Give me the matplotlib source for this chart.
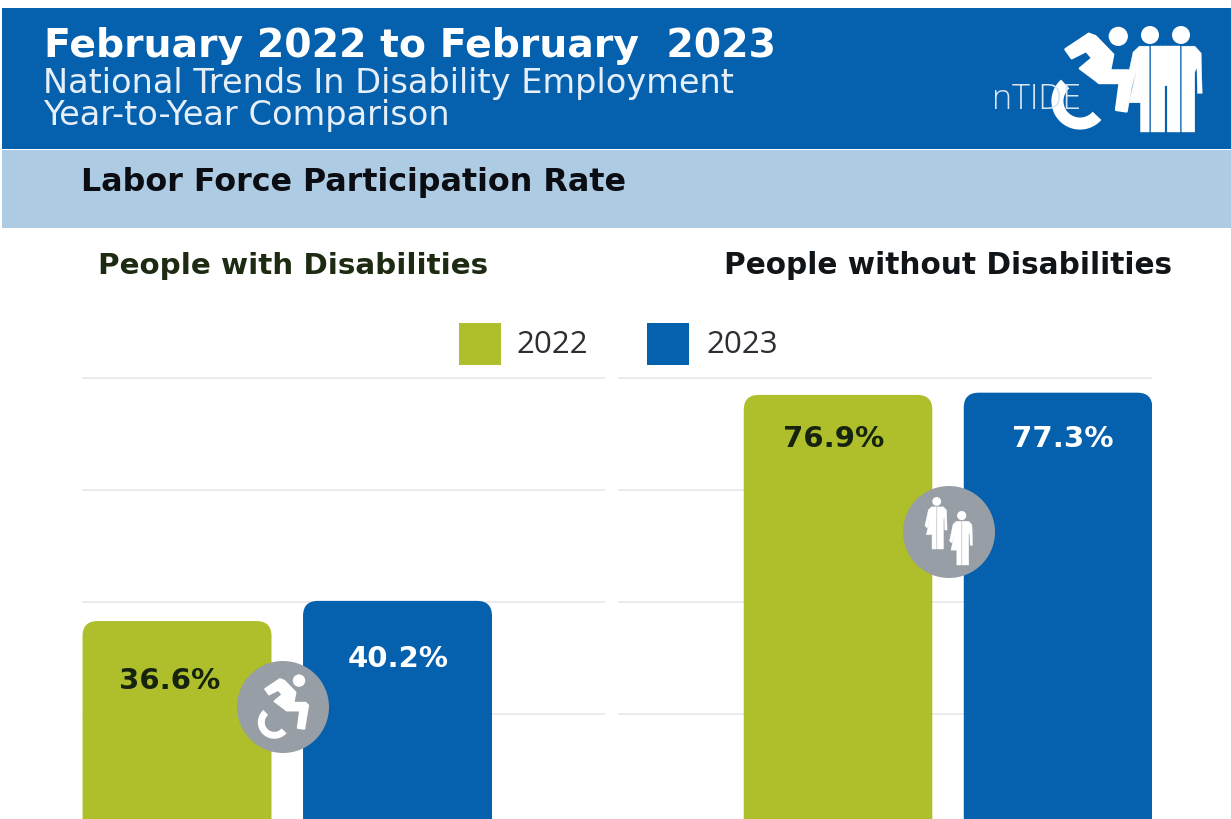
import numpy as np
import matplotlib
matplotlib.use("Agg")
import matplotlib.pyplot as plt
from matplotlib.patches import Rectangle, Circle, Polygon, FancyBboxPatch

W, H = 1231, 820
BLUE = "#0561ae"
GREEN = "#aebf2b"
PALE = "#aecbe4"
GREY = "#979ea6"
GRID = "#e3e5e8"

years = ["2022", "2023"]
with_disabilities = [36.6, 40.2]
without_disabilities = [76.9, 77.3]
grid_values = [20, 40, 60, 80]

title = "February 2022 to February  2023"
subtitle = ["National Trends In Disability Employment", "Year-to-Year Comparison"]
band_title = "Labor Force Participation Rate"
panel_titles = ["People with Disabilities", "People without Disabilities"]


def px_axes(fig, left, right, top, bottom):
    return fig.add_axes([left / W, 1 - bottom / H, (right - left) / W, (bottom - top) / H])


def rounded_bars(ax, values, colors, radius=0.068, width=0.857, floor=-8):
    # rounding is in x units, mutation_aspect keeps the corners circular on screen
    # boxes start below the axis so only the top corners show
    x0, x1 = ax.get_xlim()
    y0, y1 = ax.get_ylim()
    bb = ax.get_window_extent()
    aspect = (bb.width / (x1 - x0)) / (bb.height / (y1 - y0))
    for i, v in enumerate(values):
        ax.add_patch(FancyBboxPatch((i - width / 2, floor), width, v - floor,
                                    boxstyle=f"round,pad=0,rounding_size={radius}",
                                    mutation_aspect=aspect, fc=colors[i], ec="none", zorder=3))


def panel(ax, xlim, values, offsets):
    ax.set_xlim(*xlim)
    ax.set_ylim(1.33, 82)
    rounded_bars(ax, values, [GREEN, BLUE])
    ax.set_yticks(grid_values)
    ax.set_xticks([])
    ax.tick_params(left=False, labelleft=False)
    ax.grid(axis="y", color=GRID, lw=1.1)
    ax.set_axisbelow(True)
    for s in ax.spines.values():
        s.set_visible(False)
    label_colors = ["#15230f", "white"]
    for i, v in enumerate(values):
        ax.annotate(f"{v}%", (i, v), xytext=offsets[i], textcoords="offset pixels",
                    ha="center", va="center", fontsize=21, fontweight="bold",
                    color=label_colors[i], zorder=4)


def accessible(ax, cx, cy, s, color, wheel=1.0):
    # wheelchair symbol, (cx, cy) is the wheel centre
    t = np.radians(np.linspace(41, 229, 40))
    r = 13 * s * wheel
    ax.plot(cx + r * np.cos(t), cy + r * np.sin(t), color=color,
            lw=5 * s * wheel, solid_capstyle="butt")
    ax.add_patch(Circle((cx + 24.7 * s, cy - 41.7 * s), 6.2 * s, fc=color, ec="none"))
    body = np.array([(-28, -100), (17, -130), (30, -125), (64, -90), (58, -59), (94, -59),
                     (102, -51), (90, 20), (70, 17), (77, -35), (37, -35), (27, -43),
                     (0, -63), (24, -83), (12, -97), (-16, -83)]) / 3
    ax.add_patch(Polygon(np.column_stack([cx + body[:, 0] * s, cy + body[:, 1] * s]),
                         fc=color, ec=color, lw=1.2 * s, joinstyle="round"))


def person(ax, cx, top, h, color, dress=True, arm=True, half=0.125):
    # split figure, dress on the left half and trousers on the right; top is the top of the head
    head = 0.085 * h
    ax.add_patch(Circle((cx, top + head), head, fc=color, ec="none"))
    y = top + 0.19 * h
    b = h - 0.19 * h
    gap = 0.008
    if arm:
        right = [(gap, 0), (0.13, 0), (0.19, 0.08), (0.2, 0.55), (0.155, 0.55), (0.15, 0.25),
                 (0.13, 0.3), (0.13, 1), (gap, 1)]
    else:
        right = [(gap, 0), (half, 0), (half, 1), (gap, 1)]
    if dress:
        left = [(-gap, 0), (-0.1, 0), (-0.16, 0.07), (-0.225, 0.45), (-0.18, 0.5), (-0.13, 0.3),
                (-0.2, 0.66), (-0.09, 0.66), (-0.09, 1), (-gap, 1)]
    else:
        left = [(-gap, 0), (-half, 0), (-half, 1), (-gap, 1)]
    for shape in (right, left):
        ax.add_patch(Polygon([(cx + p * h, y + q * b) for p, q in shape], fc=color, ec=color, lw=0.3))


plt.rcParams["font.family"] = ["DejaVu Sans"]
fig = plt.figure(figsize=(W / 100, H / 100), dpi=100, facecolor="white")

ax_left = px_axes(fig, 82, 605, 367.3, 820)
ax_right = px_axes(fig, 618, 1152, 367.3, 820)
panel(ax_left, (-0.431, 1.941), with_disabilities, [(-7, -59), (1, -57)])
panel(ax_right, (-1.0, 1.427), without_disabilities, [(-4, -43), (5, -45)])

# banner, headings and badges sit in a pixel-sized overlay
over = fig.add_axes([0, 0, 1, 1], zorder=5)
over.set_xlim(0, W)
over.set_ylim(H, 0)
over.axis("off")
over.add_patch(Rectangle((2, 8.5), W, 141, fc=BLUE, ec="none"))
over.add_patch(Rectangle((2, 150.5), W, 78, fc=PALE, ec="none"))

over.text(44, 46, title, color="white", fontsize=28.4, fontweight="bold", va="center")
for line, y in zip(subtitle, [83, 115]):
    over.text(43, y, line, color="#e6eff7", fontsize=24.2, va="center")
over.text(81, 183, band_title, color="#0b0d12", fontsize=22.9, fontweight="bold", va="center")
over.text(98, 266, panel_titles[0], color="#1c2b12", fontsize=21.2, fontweight="bold", va="center")
over.text(724, 266, panel_titles[1], color="#10151a", fontsize=21.3, fontweight="bold", va="center")

# logo
accessible(over, 1080, 102, 1.55, "white", wheel=1.12)
person(over, 1150, 27, 106, "white", arm=False, half=0.15)
person(over, 1181, 27, 106, "white", dress=False, half=0.15)
over.plot([1165.5, 1165.5], [88, 133], color=BLUE, lw=1.6)
over.text(992, 100, "nTIDE", color="#d6e6f3", fontsize=24.5, va="center", family="Open Sans", fontweight="light")

# badges between the bars
over.add_patch(Circle((283, 708), 46, fc=GREY, ec="none"))
accessible(over, 274.3, 723.3, 1.0, "white")
over.add_patch(Circle((949, 533), 46, fc=GREY, ec="none"))
person(over, 936.7, 498, 52, "white")
person(over, 961.7, 512, 54, "white")

handles = [Rectangle((0, 0), 1, 1, fc=c, ec="none") for c in (GREEN, BLUE)]
fs = 22.5
fpx = fs * 100 / 72
leg = fig.legend(handles, years, loc="center left", bbox_to_anchor=(459 / W, 1 - 345 / H),
                 ncol=2, frameon=False, prop={"family": "Open Sans", "size": fs},
                 labelcolor="#2b2e33", borderpad=0, borderaxespad=0,
                 handlelength=42 / fpx, handleheight=1.69, handletextpad=15 / fpx,
                 columnspacing=59.5 / fpx)
leg.set_zorder(6)
leg.get_texts()[0].set_y(2)
leg.get_texts()[1].set_position((2, 2))

fig.savefig("out.png", dpi=100)
